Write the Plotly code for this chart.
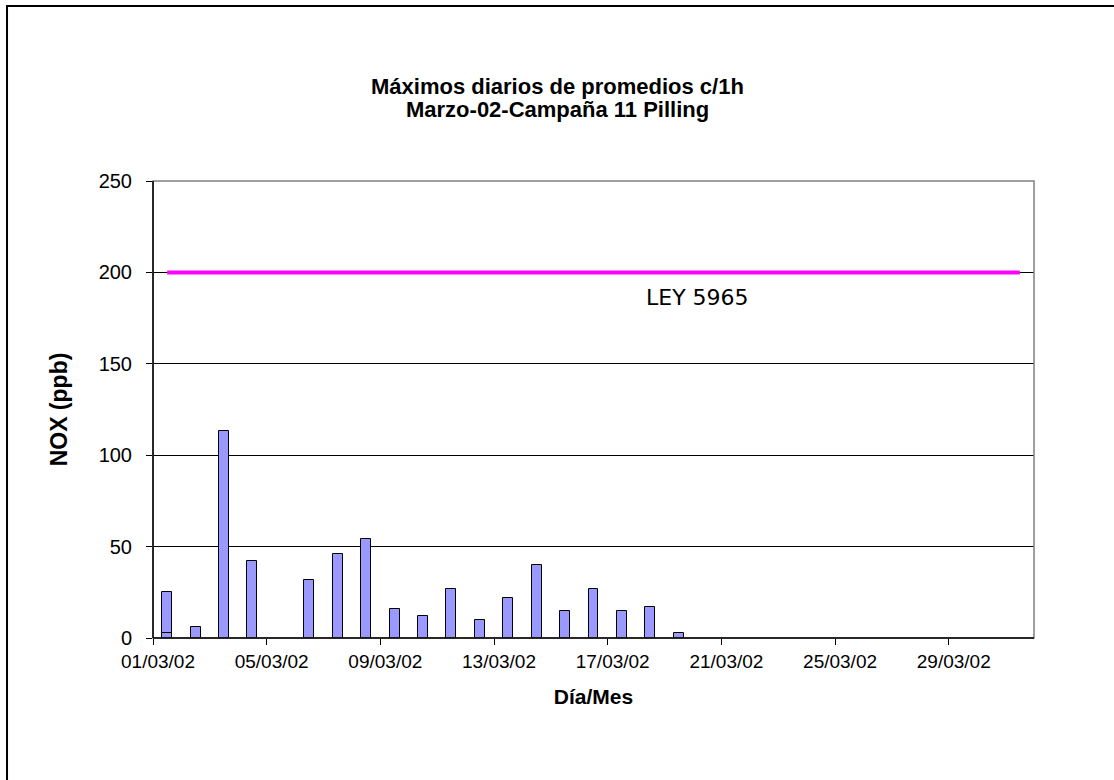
import plotly.graph_objects as go

# Daily maxima of 1-hour averages, NOx (ppb), March 2002 campaign
dias = [
    "2002-03-01", "2002-03-01", "2002-03-02", "2002-03-03", "2002-03-04",
    "2002-03-06", "2002-03-07", "2002-03-08", "2002-03-09", "2002-03-10",
    "2002-03-11", "2002-03-12", "2002-03-13", "2002-03-14", "2002-03-15",
    "2002-03-16", "2002-03-17", "2002-03-18", "2002-03-19",
]
nox_max = [25, 3, 6, 113, 42, 32, 46, 54, 16, 12, 27, 10, 22, 40, 15, 27, 15, 17, 3]

# Legal limit (Ley 5965) drawn across the whole month
dias_mes = [f"2002-03-{d:02d}" for d in range(1, 32)]
ley_5965 = [200, 200, 200, 200, 200, 200, 200, 200, 200, 200, 200,
            200, 200, 200, 200, 200, 200, 200, 200, 200, 200, 200,
            200, 200, 200, 200, 200, 200, 200, 200, 200]

titulo_1 = "Máximos diarios de promedios c/1h"
titulo_2 = "Marzo-02-Campaña 11 Pilling"

DAY_MS = 86400000
FONT = "Liberation Sans, Arial, sans-serif"

fig = go.Figure()

fig.add_trace(go.Bar(
    x=dias, y=nox_max,
    xperiod=DAY_MS, xperiodalignment="middle",
    width=0.35 * DAY_MS,
    marker=dict(color="#9999FF", line=dict(color="black", width=1)),
    showlegend=False,
))

fig.add_trace(go.Scatter(
    x=dias_mes, y=ley_5965,
    xperiod=DAY_MS, xperiodalignment="middle",
    mode="lines", line=dict(color="#FF00FF", width=4),
    showlegend=False,
))

fig.add_annotation(
    x="2002-03-20 04:00", y=200, text="LEY 5965", showarrow=False,
    yanchor="middle", yshift=-25,
    font=dict(family="DejaVu Sans, Verdana, sans-serif", size=22, color="black"),
)

# two-line chart title, centred on the chart area
for texto, ypos in ((titulo_1, 1.2057), (titulo_2, 1.1575)):
    fig.add_annotation(
        xref="paper", yref="paper", x=0.4586, y=ypos,
        xanchor="center", yanchor="middle", showarrow=False, text=texto,
        font=dict(family=FONT, size=22, color="black", weight="bold"),
    )

# plot-area border (grey top/right) and outer chart frame
fig.add_shape(type="rect", xref="paper", yref="paper", x0=0, y0=0, x1=1, y1=1,
              line=dict(color="#808080", width=1.5), layer="above")
fig.add_shape(type="line", xref="paper", yref="paper", x0=0, y0=0, x1=1, y1=0,
              line=dict(color="black", width=1.5), layer="above")
fig.add_shape(type="line", xref="paper", yref="paper", x0=0, y0=0, x1=0, y1=1,
              line=dict(color="black", width=1.5), layer="above")
fig.add_shape(type="rect", xref="paper", yref="paper",
              x0=-0.1657, y0=-0.6, x1=1.2, y1=1.383,
              line=dict(color="black", width=2), layer="above")

fig.update_layout(
    width=1114, height=780,
    margin=dict(l=153, r=80, t=181, b=142, pad=0),
    paper_bgcolor="white", plot_bgcolor="white",
    bargap=0, barmode="overlay",
    font=dict(family=FONT, size=20, color="black"),
)

fig.update_xaxes(
    type="date",
    range=["2002-03-01", "2002-04-01"],
    tick0="2002-03-01", dtick=4 * DAY_MS, tickformat="%d/%m/%y",
    ticks="outside", ticklen=6, tickcolor="black",
    showgrid=False, zeroline=False, showline=False,
    tickfont=dict(family=FONT, size=19, color="black"),
    ticklabelshift=5,
    title=dict(text="Día/Mes", standoff=18,
               font=dict(family=FONT, size=21, color="black", weight="bold")),
)

fig.update_yaxes(
    range=[0, 250], dtick=50,
    ticks="outside", ticklen=6, tickcolor="black",
    showgrid=True, gridcolor="black", gridwidth=1,
    zeroline=False, showline=False,
    tickfont=dict(family=FONT, size=20, color="black"),
    ticklabelstandoff=10,
    title=dict(text="NOX (ppb)", standoff=24,
               font=dict(family=FONT, size=23, color="black", weight="bold")),
)

fig.write_html("out.html")
